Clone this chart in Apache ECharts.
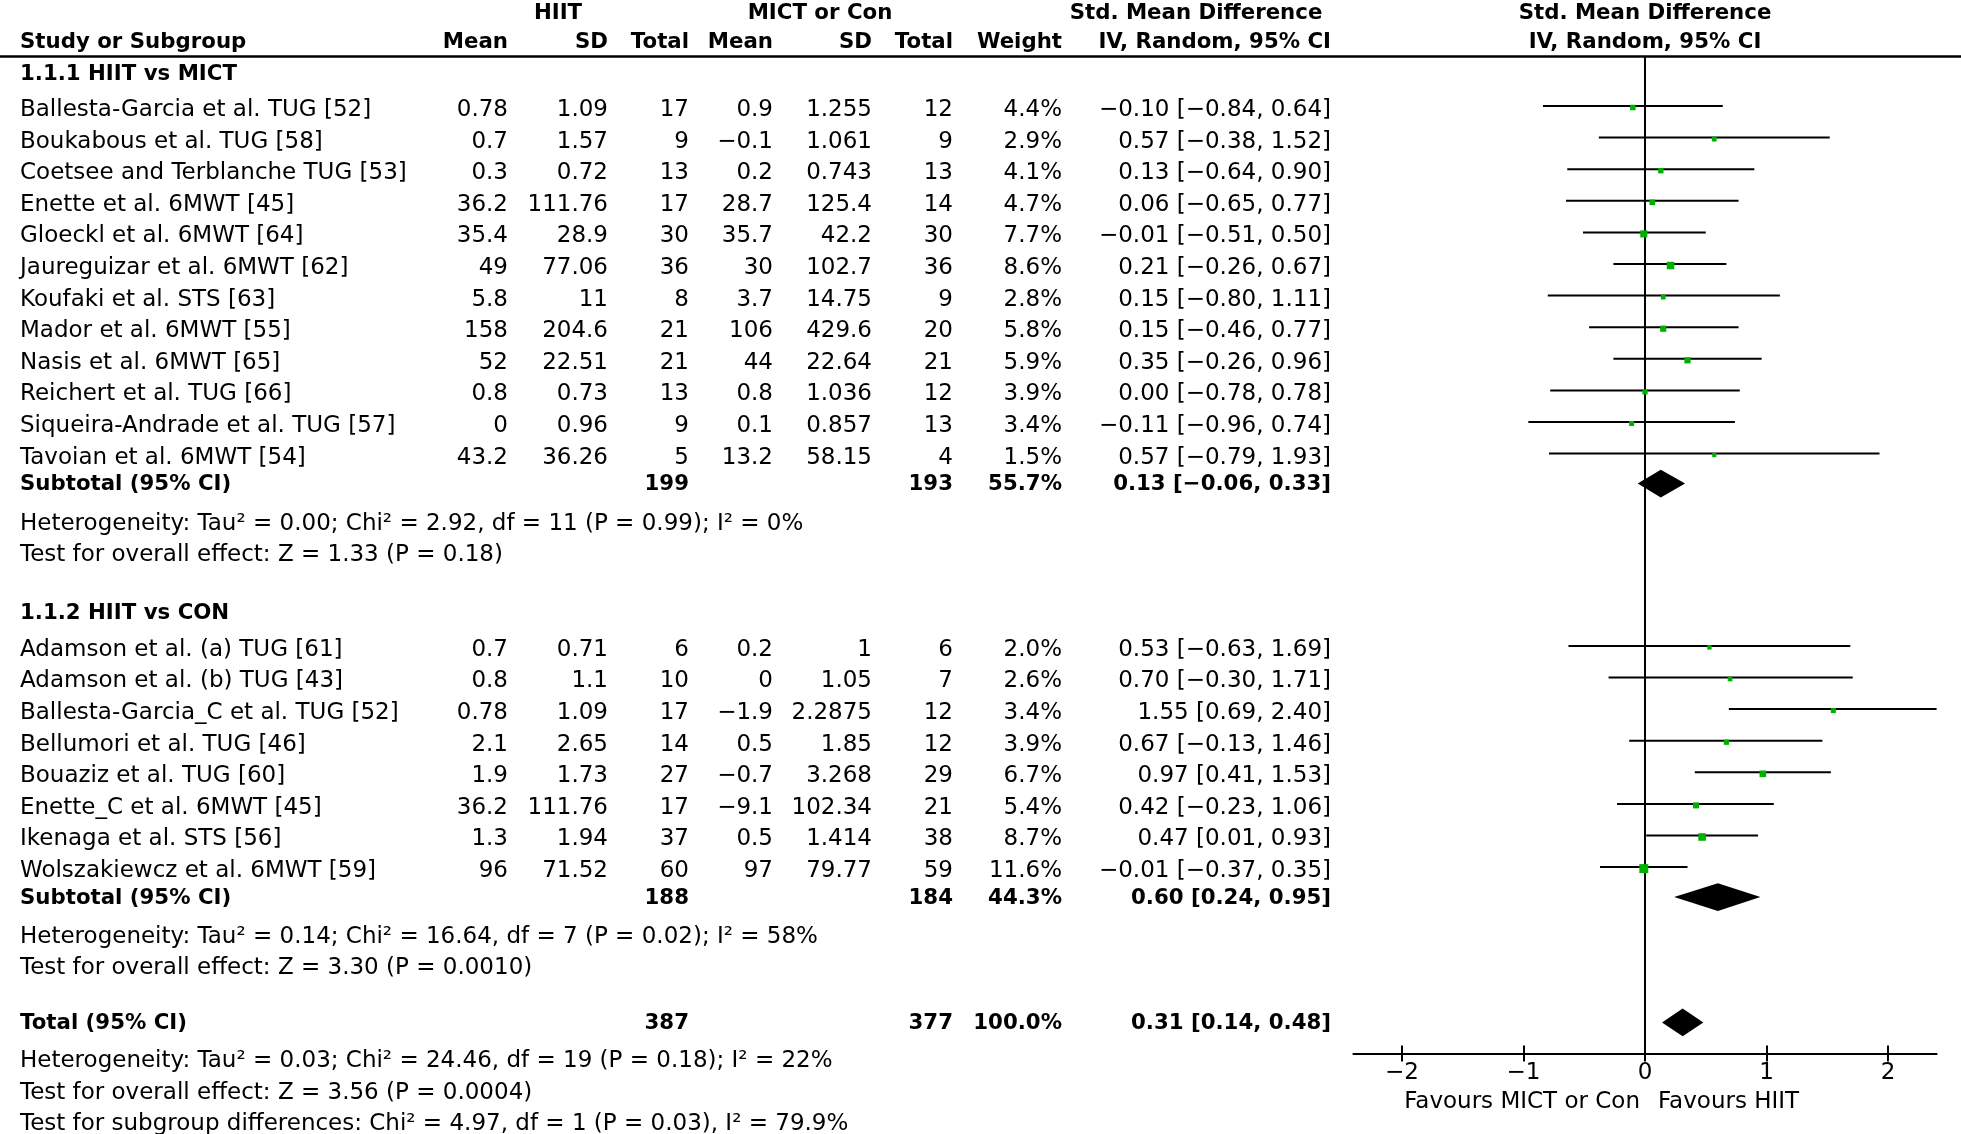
<!DOCTYPE html>
<html><head><meta charset="utf-8">
<script src="https://cdn.jsdelivr.net/npm/echarts@6/dist/echarts.min.js"></script>
<style>html,body{margin:0;padding:0;background:#fff}#c{width:1961px;height:1134px}</style>
</head><body><div id="c"></div>
<script>
// ---------------- DATA ----------------
const group1Name = '1.1.1 HIIT vs MICT';
const group1Studies = ['Ballesta-Garcia et al. TUG [52]', 'Boukabous et al. TUG [58]', 'Coetsee and Terblanche TUG [53]', 'Enette et al. 6MWT [45]', 'Gloeckl et al. 6MWT [64]', 'Jaureguizar et al. 6MWT [62]', 'Koufaki et al. STS [63]', 'Mador et al. 6MWT [55]', 'Nasis et al. 6MWT [65]', 'Reichert et al. TUG [66]', 'Siqueira-Andrade et al. TUG [57]', 'Tavoian et al. 6MWT [54]'];
const group1HiitMean = [0.78, 0.7, 0.3, 36.2, 35.4, 49, 5.8, 158, 52, 0.8, 0, 43.2];
const group1HiitSD = [1.09, 1.57, 0.72, 111.76, 28.9, 77.06, 11, 204.6, 22.51, 0.73, 0.96, 36.26];
const group1HiitN = [17, 9, 13, 17, 30, 36, 8, 21, 21, 13, 9, 5];
const group1ConMean = [0.9, -0.1, 0.2, 28.7, 35.7, 30, 3.7, 106, 44, 0.8, 0.1, 13.2];
const group1ConSD = [1.255, 1.061, 0.743, 125.4, 42.2, 102.7, 14.75, 429.6, 22.64, 1.036, 0.857, 58.15];
const group1ConN = [12, 9, 13, 14, 30, 36, 9, 20, 21, 12, 13, 4];
const group1Weight = [4.4, 2.9, 4.1, 4.7, 7.7, 8.6, 2.8, 5.8, 5.9, 3.9, 3.4, 1.5];
const group1SMD = [-0.10, 0.57, 0.13, 0.06, -0.01, 0.21, 0.15, 0.15, 0.35, 0.00, -0.11, 0.57];
const group1Low = [-0.84, -0.38, -0.64, -0.65, -0.51, -0.26, -0.80, -0.46, -0.26, -0.78, -0.96, -0.79];
const group1High = [0.64, 1.52, 0.90, 0.77, 0.50, 0.67, 1.11, 0.77, 0.96, 0.78, 0.74, 1.93];
// [HIIT total, control total, weight %, SMD, low, high]
const group1Subtotal = [199, 193, 55.7, 0.13, -0.06, 0.33];
const group1Heterogeneity = 'Heterogeneity: Tau\u00b2 = 0.00; Chi\u00b2 = 2.92, df = 11 (P = 0.99); I\u00b2 = 0%';
const group1Effect = 'Test for overall effect: Z = 1.33 (P = 0.18)';

const group2Name = '1.1.2 HIIT vs CON';
const group2Studies = ['Adamson et al. (a) TUG [61]', 'Adamson et al. (b) TUG [43]', 'Ballesta-Garcia_C et al. TUG [52]', 'Bellumori et al. TUG [46]', 'Bouaziz et al. TUG [60]', 'Enette_C et al. 6MWT [45]', 'Ikenaga et al. STS [56]', 'Wolszakiewcz et al. 6MWT [59]'];
const group2HiitMean = [0.7, 0.8, 0.78, 2.1, 1.9, 36.2, 1.3, 96];
const group2HiitSD = [0.71, 1.1, 1.09, 2.65, 1.73, 111.76, 1.94, 71.52];
const group2HiitN = [6, 10, 17, 14, 27, 17, 37, 60];
const group2ConMean = [0.2, 0, -1.9, 0.5, -0.7, -9.1, 0.5, 97];
const group2ConSD = [1, 1.05, 2.2875, 1.85, 3.268, 102.34, 1.414, 79.77];
const group2ConN = [6, 7, 12, 12, 29, 21, 38, 59];
const group2Weight = [2.0, 2.6, 3.4, 3.9, 6.7, 5.4, 8.7, 11.6];
const group2SMD = [0.53, 0.70, 1.55, 0.67, 0.97, 0.42, 0.47, -0.01];
const group2Low = [-0.63, -0.30, 0.69, -0.13, 0.41, -0.23, 0.01, -0.37];
const group2High = [1.69, 1.71, 2.40, 1.46, 1.53, 1.06, 0.93, 0.35];
const group2Subtotal = [188, 184, 44.3, 0.60, 0.24, 0.95];
const group2Heterogeneity = 'Heterogeneity: Tau\u00b2 = 0.14; Chi\u00b2 = 16.64, df = 7 (P = 0.02); I\u00b2 = 58%';
const group2Effect = 'Test for overall effect: Z = 3.30 (P = 0.0010)';

const overallTotal = [387, 377, 100.0, 0.31, 0.14, 0.48];
const overallHeterogeneity = 'Heterogeneity: Tau\u00b2 = 0.03; Chi\u00b2 = 24.46, df = 19 (P = 0.18); I\u00b2 = 22%';
const overallEffect = 'Test for overall effect: Z = 3.56 (P = 0.0004)';
const subgroupDifferences = 'Test for subgroup differences: Chi\u00b2 = 4.97, df = 1 (P = 0.03), I\u00b2 = 79.9%';

const axisTickValues = [-2, -1, 0, 1, 2];
const favoursLeft = 'Favours MICT or Con';
const favoursRight = 'Favours HIIT';

// ---------------- LAYOUT ----------------
const FONT = '"DejaVu Sans", "Noto Sans", sans-serif';
const FS = 23, FSB = 21.3;
const TEXT_DY = 4, SUM_DY = 1;
const COL = {name: 20, hMean: 508, hSD: 608, hN: 689, cMean: 773, cSD: 872, cN: 953, w: 1062, ci: 1331};
const HEAD1_Y = 9, HEAD2_Y = 38.5, RULE_Y = 56.5;
const GAP = {firstGroup: 70, headToStudy: 36, study: 31.6, toSub: 30, subToHet: 36, line: 31.3, toGroup: 59, toTotal: 58, totToHet: 35};
const PLOT_LEFT = 1353.4, PLOT_W = 583.2, PLOT_TOP = 57, AXIS_Y = 1053.5;
const XMIN = -2.4, XMAX = 2.4;

const minus = s => s.replace(/-/g, '\u2212');
const fNum = v => minus(String(v));
const f2 = v => (v < 0 ? '\u2212' : '') + Math.abs(v).toFixed(2);
const ciStr = (e, l, h) => f2(e) + ' [' + f2(l) + ', ' + f2(h) + ']';

const texts = [];   // {x, y, t, al, b}
const studies = []; // [smd, low, high, y, weight]
const diamonds = []; // [est, low, high, y]
const T = (x, y, t, al, b, dy) => texts.push({x, y: y + (dy === undefined ? TEXT_DY : dy), t, al: al || 'left', b: !!b});

// headers
T(558, HEAD1_Y, 'HIIT', 'center', true);
T(820, HEAD1_Y, 'MICT or Con', 'center', true);
T(1196, HEAD1_Y, 'Std. Mean Difference', 'center', true);
T(1645, HEAD1_Y, 'Std. Mean Difference', 'center', true);
T(COL.name, HEAD2_Y, 'Study or Subgroup', 'left', true);
T(COL.hMean, HEAD2_Y, 'Mean', 'right', true);
T(COL.hSD, HEAD2_Y, 'SD', 'right', true);
T(COL.hN, HEAD2_Y, 'Total', 'right', true);
T(COL.cMean, HEAD2_Y, 'Mean', 'right', true);
T(COL.cSD, HEAD2_Y, 'SD', 'right', true);
T(COL.cN, HEAD2_Y, 'Total', 'right', true);
T(COL.w, HEAD2_Y, 'Weight', 'right', true);
T(COL.ci, HEAD2_Y, 'IV, Random, 95% CI', 'right', true);
T(1645, HEAD2_Y, 'IV, Random, 95% CI', 'center', true);

const groups = [
  {name: group1Name, st: group1Studies, hm: group1HiitMean, hs: group1HiitSD, hn: group1HiitN, cm: group1ConMean, cs: group1ConSD, cn: group1ConN, w: group1Weight, e: group1SMD, l: group1Low, h: group1High, sub: group1Subtotal, het: group1Heterogeneity, eff: group1Effect},
  {name: group2Name, st: group2Studies, hm: group2HiitMean, hs: group2HiitSD, hn: group2HiitN, cm: group2ConMean, cs: group2ConSD, cn: group2ConN, w: group2Weight, e: group2SMD, l: group2Low, h: group2High, sub: group2Subtotal, het: group2Heterogeneity, eff: group2Effect}
];

function summaryRow(y, label, s) {
  T(COL.name, y, label, 'left', true, SUM_DY);
  T(COL.hN, y, String(s[0]), 'right', true, SUM_DY);
  T(COL.cN, y, String(s[1]), 'right', true, SUM_DY);
  T(COL.w, y, s[2].toFixed(1) + '%', 'right', true, SUM_DY);
  T(COL.ci, y, ciStr(s[3], s[4], s[5]), 'right', true, SUM_DY);
  diamonds.push([s[3], s[4], s[5], y]);
}

let y = GAP.firstGroup;
groups.forEach((g, gi) => {
  if (gi > 0) y += GAP.toGroup;
  T(COL.name, y, g.name, 'left', true);
  g.st.forEach((name, i) => {
    y += (i === 0 ? GAP.headToStudy : GAP.study);
    T(COL.name, y, name);
    T(COL.hMean, y, fNum(g.hm[i]), 'right');
    T(COL.hSD, y, fNum(g.hs[i]), 'right');
    T(COL.hN, y, String(g.hn[i]), 'right');
    T(COL.cMean, y, fNum(g.cm[i]), 'right');
    T(COL.cSD, y, fNum(g.cs[i]), 'right');
    T(COL.cN, y, String(g.cn[i]), 'right');
    T(COL.w, y, g.w[i].toFixed(1) + '%', 'right');
    T(COL.ci, y, ciStr(g.e[i], g.l[i], g.h[i]), 'right');
    studies.push([g.e[i], g.l[i], g.h[i], y, g.w[i]]);
  });
  y += GAP.toSub;
  summaryRow(y, 'Subtotal (95% CI)', g.sub);
  y += GAP.subToHet; T(COL.name, y, g.het);
  y += GAP.line; T(COL.name, y, g.eff);
});
y += GAP.toTotal;
summaryRow(y, 'Total (95% CI)', overallTotal);
y += GAP.totToHet; T(COL.name, y, overallHeterogeneity);
y += GAP.line; T(COL.name, y, overallEffect);
y += GAP.line; T(COL.name, y, subgroupDifferences);

// favours labels (under the forest axis)
const FAV_Y = 1098;
T(1640, FAV_Y, favoursLeft, 'right');
T(1658, FAV_Y, favoursRight, 'left');

// ---------------- CHART ----------------
const chart = echarts.init(document.getElementById('c'), null, {renderer: 'canvas'});
const tickFmt = v => (v < 0 ? '\u2212' + (-v) : String(v));
const GREEN = '#00b000';

chart.setOption({
  animation: false,
  backgroundColor: '#fff',
  grid: [
    {left: 0, top: 0, width: 1961, height: 1134},
    {left: PLOT_LEFT, top: PLOT_TOP, width: PLOT_W, height: AXIS_Y - PLOT_TOP}
  ],
  xAxis: [
    {gridIndex: 0, type: 'value', min: 0, max: 1961, show: false},
    {gridIndex: 1, type: 'value', min: XMIN, max: XMAX, position: 'bottom',
      axisLine: {show: true, onZero: false, lineStyle: {color: '#000', width: 2}},
      axisTick: {show: true, customValues: axisTickValues, length: 8, lineStyle: {color: '#000', width: 2}},
      axisLabel: {show: true, customValues: axisTickValues, formatter: tickFmt, color: '#000', fontSize: FS, fontFamily: FONT, margin: 8},
      splitLine: {show: false}},
    {gridIndex: 1, type: 'value', min: XMIN, max: XMAX, position: 'bottom',
      axisLine: {show: false, onZero: false},
      axisTick: {show: true, inside: true, customValues: axisTickValues, length: 8, lineStyle: {color: '#000', width: 2}},
      axisLabel: {show: false}, splitLine: {show: false}}
  ],
  yAxis: [
    {gridIndex: 0, type: 'value', min: 0, max: 1134, inverse: true, show: false},
    {gridIndex: 1, type: 'value', min: PLOT_TOP, max: AXIS_Y, inverse: true,
      axisLine: {show: true, onZero: true, onZeroAxisIndex: 1, lineStyle: {color: '#000', width: 2}},
      axisTick: {show: false}, axisLabel: {show: false}, splitLine: {show: false}}
  ],
  series: [
    {
      type: 'custom', name: 'table', xAxisIndex: 0, yAxisIndex: 0, silent: true,
      data: texts.map((t, i) => [t.x, t.y, i]),
      encode: {x: 0, y: 1},
      renderItem: (params, api) => {
        const t = texts[api.value(2)];
        const p = api.coord([api.value(0), api.value(1)]);
        return {
          type: 'text', x: p[0], y: p[1],
          style: {text: t.t, fill: '#000', fontSize: t.b ? FSB : FS, fontFamily: FONT, fontWeight: t.b ? 'bold' : 'normal', align: t.al, verticalAlign: 'middle'}
        };
      }
    },
    {
      type: 'custom', name: 'rule', xAxisIndex: 0, yAxisIndex: 0, silent: true,
      data: [[0, 1961, RULE_Y]],
      encode: {x: [0, 1], y: 2},
      renderItem: (params, api) => {
        const a = api.coord([api.value(0), api.value(2)]);
        const b = api.coord([api.value(1), api.value(2)]);
        return {type: 'line', shape: {x1: a[0], y1: a[1], x2: b[0], y2: b[1]}, style: {stroke: '#000', lineWidth: 2.5}};
      }
    },
    {
      type: 'custom', name: 'studies', xAxisIndex: 1, yAxisIndex: 1, silent: true,
      data: studies,
      encode: {x: [0, 1, 2], y: 3},
      renderItem: (params, api) => {
        const yy = api.value(3);
        const a = api.coord([api.value(1), yy]);
        const b = api.coord([api.value(2), yy]);
        const c = api.coord([api.value(0), yy]);
        const s = 3.4 + 0.48 * api.value(4);
        return {type: 'group', children: [
          {type: 'line', shape: {x1: a[0], y1: a[1], x2: b[0], y2: b[1]}, style: {stroke: '#000', lineWidth: 2}},
          {type: 'rect', shape: {x: c[0] - s / 2, y: c[1] - s / 2 + 1.5, width: s, height: s}, style: {fill: GREEN}}
        ]};
      }
    },
    {
      type: 'custom', name: 'diamonds', xAxisIndex: 1, yAxisIndex: 1, silent: true,
      data: diamonds,
      encode: {x: [0, 1, 2], y: 3},
      renderItem: (params, api) => {
        const yy = api.value(3);
        const l = api.coord([api.value(1), yy]);
        const r = api.coord([api.value(2), yy]);
        const c = api.coord([api.value(0), yy]);
        const hh = 13.8;
        return {type: 'polygon', shape: {points: [[l[0], l[1]], [c[0], c[1] - hh], [r[0], r[1]], [c[0], c[1] + hh]]}, style: {fill: '#000'}};
      }
    }
  ]
});
</script>
</body></html>
